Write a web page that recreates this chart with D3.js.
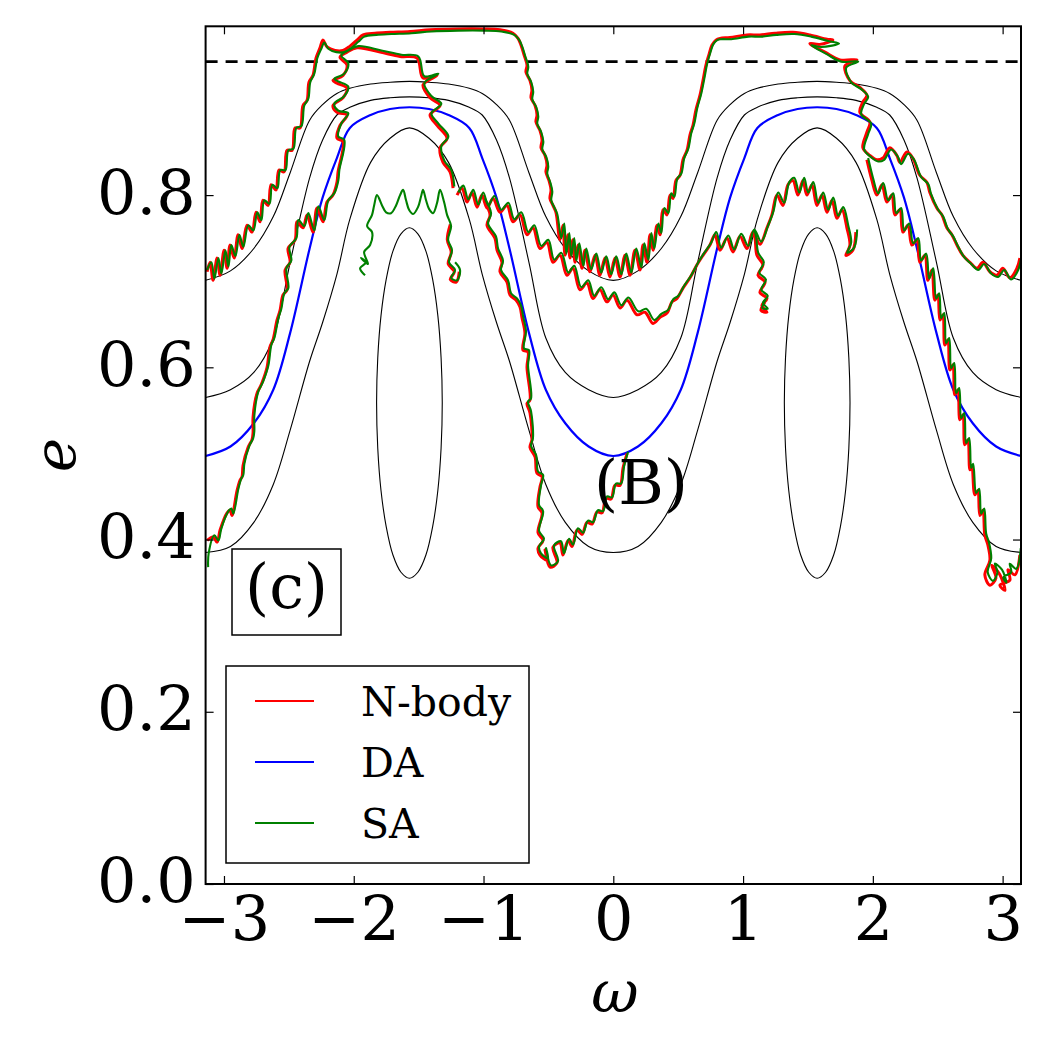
<!DOCTYPE html>
<html>
<head>
<meta charset="utf-8">
<script src="https://cdn.jsdelivr.net/npm/d3@7"></script>
<style>
  body { margin: 0; background: #fff; }
  svg { display: block; background: #fff; }
  text { font-family: "DejaVu Serif", serif; fill: #000; }
</style>
</head>
<body>
<svg width="1050" height="1050"></svg>
<script>
// ---- data (omega, e) ----
const contourOmega = [-3.1416, -2.95, -2.77, -2.62, -2.49, -2.34, -2.24, -2.13, -2.03, -1.87, -1.72, -1.5708,
  -1.42, -1.27, -1.11, -1.01, -0.90, -0.80, -0.65, -0.52, -0.37, -0.19, 0,
  0.19, 0.37, 0.52, 0.65, 0.80, 0.90, 1.01, 1.11, 1.27, 1.42, 1.5708,
  1.72, 1.87, 2.03, 2.13, 2.24, 2.34, 2.49, 2.62, 2.77, 2.95, 3.1416];

// DA curve (blue)
const daE = [0.497, 0.508, 0.535, 0.574, 0.640, 0.738, 0.797, 0.843, 0.878, 0.893, 0.900, 0.902,
  0.900, 0.893, 0.878, 0.843, 0.797, 0.738, 0.640, 0.574, 0.535, 0.508, 0.497,
  0.508, 0.535, 0.574, 0.640, 0.738, 0.797, 0.843, 0.878, 0.893, 0.900, 0.902,
  0.900, 0.893, 0.878, 0.843, 0.797, 0.738, 0.640, 0.574, 0.535, 0.508, 0.497];

// black level curves
const outerE = [0.701, 0.712, 0.738, 0.775, 0.826, 0.887, 0.905, 0.918, 0.924, 0.929, 0.931, 0.932,
  0.931, 0.929, 0.924, 0.918, 0.905, 0.887, 0.826, 0.775, 0.738, 0.712, 0.701,
  0.712, 0.738, 0.775, 0.826, 0.887, 0.905, 0.918, 0.924, 0.929, 0.931, 0.932,
  0.931, 0.929, 0.924, 0.918, 0.905, 0.887, 0.826, 0.775, 0.738, 0.712, 0.701];
const middleE = [0.565, 0.574, 0.594, 0.634, 0.722, 0.820, 0.864, 0.893, 0.902, 0.910, 0.913, 0.914,
  0.913, 0.910, 0.902, 0.893, 0.864, 0.820, 0.722, 0.634, 0.594, 0.574, 0.565,
  0.574, 0.594, 0.634, 0.722, 0.820, 0.864, 0.893, 0.902, 0.910, 0.913, 0.914,
  0.913, 0.910, 0.902, 0.893, 0.864, 0.820, 0.722, 0.634, 0.594, 0.574, 0.565];
const innerE = [0.385, 0.392, 0.420, 0.464, 0.527, 0.607, 0.652, 0.708, 0.772, 0.838, 0.866, 0.878,
  0.866, 0.838, 0.772, 0.708, 0.652, 0.607, 0.527, 0.464, 0.420, 0.392, 0.385,
  0.392, 0.420, 0.464, 0.527, 0.607, 0.652, 0.708, 0.772, 0.838, 0.866, 0.878,
  0.866, 0.838, 0.772, 0.708, 0.652, 0.607, 0.527, 0.464, 0.420, 0.392, 0.385];

// closed libration islands (oval outlines)
const islandLeft = [[-1.571,0.762],[-1.636,0.755],[-1.698,0.735],[-1.750,0.702],[-1.790,0.660],[-1.815,0.611],
  [-1.824,0.559],[-1.815,0.506],[-1.790,0.457],[-1.750,0.415],[-1.698,0.382],[-1.636,0.362],[-1.571,0.355],
  [-1.506,0.362],[-1.444,0.382],[-1.392,0.415],[-1.352,0.457],[-1.327,0.506],[-1.318,0.559],[-1.327,0.611],
  [-1.352,0.660],[-1.392,0.702],[-1.444,0.735],[-1.506,0.755]];
const islandRight = [[1.571,0.762],[1.506,0.755],[1.444,0.735],[1.392,0.702],[1.352,0.660],[1.327,0.611],
  [1.318,0.559],[1.327,0.506],[1.352,0.457],[1.392,0.415],[1.444,0.382],[1.506,0.362],[1.571,0.355],
  [1.636,0.362],[1.698,0.382],[1.750,0.415],[1.790,0.457],[1.815,0.506],[1.824,0.559],[1.815,0.611],
  [1.790,0.660],[1.750,0.702],[1.698,0.735],[1.636,0.755]];

const criticalE = 0.955;

// N-body (red)
const nbodyOuter = [[-3.130,0.711],[-3.107,0.722],[-3.084,0.701],[-3.053,0.727],[-3.030,0.707],[-2.999,0.736],
  [-2.976,0.715],[-2.953,0.742],[-2.922,0.727],[-2.891,0.754],[-2.861,0.738],[-2.822,0.765],[-2.784,0.757],
  [-2.753,0.780],[-2.722,0.769],[-2.699,0.794],[-2.660,0.788],[-2.637,0.812],[-2.599,0.806],[-2.576,0.829],
  [-2.537,0.827],[-2.514,0.852],[-2.475,0.852],[-2.452,0.878],[-2.414,0.878],[-2.391,0.904],[-2.360,0.910],
  [-2.345,0.931],[-2.314,0.939],[-2.291,0.959],[-2.260,0.971],[-2.237,0.980],[-2.206,0.972],[-2.144,0.968],
  [-2.083,0.968],[-2.029,0.973],[-1.975,0.980],[-1.928,0.986],[-1.836,0.988],[-1.720,0.989],[-1.566,0.990],
  [-1.412,0.992],[-1.204,0.993],[-1.004,0.993],[-0.873,0.992],[-0.773,0.988],[-0.734,0.982],[-0.711,0.974],
  [-0.688,0.963],[-0.665,0.951],[-0.673,0.943],[-0.642,0.933],[-0.627,0.922],[-0.634,0.913],[-0.603,0.904],
  [-0.588,0.893],[-0.596,0.885],[-0.565,0.875],[-0.549,0.864],[-0.557,0.855],[-0.526,0.846],[-0.511,0.835],
  [-0.519,0.827],[-0.496,0.817],[-0.480,0.806],[-0.488,0.796],[-0.465,0.788],[-0.442,0.780],
  [-0.411,0.748],[-0.388,0.765],[-0.372,0.730],[-0.349,0.754],[-0.334,0.727],[-0.311,0.748],[-0.295,0.722],
  [-0.272,0.742],[-0.241,0.715],[-0.218,0.736],[-0.180,0.711],[-0.141,0.730],[-0.103,0.707],[-0.064,0.727],
  [-0.026,0.705],[0.013,0.727],[0.052,0.705],[0.090,0.730],[0.129,0.707],[0.167,0.736],[0.206,0.713],
  [0.229,0.742],[0.260,0.722],[0.283,0.754],[0.306,0.736],[0.337,0.765],[0.360,0.754],[0.383,0.783],
  [0.414,0.777],[0.437,0.800],[0.460,0.796],[0.483,0.817],[0.514,0.823],[0.537,0.841],[0.568,0.852],
  [0.591,0.870],[0.614,0.881],[0.637,0.899],[0.668,0.916],[0.691,0.933],[0.714,0.951],[0.737,0.963],
  [0.760,0.974],[0.791,0.980],[0.822,0.982],[0.899,0.983],[1.030,0.986],[1.130,0.986],[1.246,0.988],
  [1.384,0.989],[1.515,0.986],[1.646,0.981],[1.692,0.980],[1.592,0.975],[1.515,0.976],[1.631,0.966],
  [1.746,0.957],[1.877,0.957],[1.785,0.950],[1.823,0.933],[1.900,0.925],[1.954,0.916],[1.923,0.908],
  [1.900,0.896],[1.977,0.885],[1.954,0.873],[1.923,0.855],[1.977,0.846],[2.031,0.841],[2.077,0.843],
  [2.131,0.855],[2.185,0.846],[2.208,0.838],[2.262,0.850],[2.308,0.843],[2.362,0.823],[2.416,0.815],
  [2.439,0.803],[2.493,0.785],[2.532,0.777],[2.570,0.762],[2.609,0.754],[2.648,0.742],[2.694,0.730],
  [2.748,0.722],[2.802,0.715],[2.848,0.722],[2.902,0.711],[2.956,0.707],[3.002,0.715],[3.056,0.704],
  [3.110,0.715],[3.133,0.727]];

const nbodyLowerLeft = [[-3.130,0.399],[-3.084,0.403],[-3.053,0.397],[-3.030,0.411],[-2.976,0.431],[-2.953,0.434],
  [-2.938,0.428],[-2.899,0.457],[-2.876,0.469],[-2.861,0.473],[-2.853,0.486],[-2.814,0.507],[-2.784,0.516],
  [-2.776,0.524],[-2.776,0.542],[-2.745,0.570],[-2.722,0.577],[-2.707,0.582],[-2.668,0.600],[-2.645,0.624],
  [-2.622,0.632],[-2.591,0.655],[-2.568,0.666],[-2.545,0.684],[-2.514,0.690],[-2.529,0.713],[-2.491,0.722],
  [-2.506,0.738],[-2.452,0.748],[-2.437,0.769],[-2.391,0.762],[-2.360,0.777],[-2.314,0.757],[-2.283,0.785],
  [-2.237,0.769],[-2.206,0.792],[-2.160,0.800],[-2.129,0.815],[-2.121,0.827],[-2.083,0.862],[-2.129,0.866],
  [-2.106,0.881],[-2.052,0.893],[-2.129,0.896],[-2.160,0.904],[-2.083,0.913],[-2.052,0.924],[-2.129,0.930],
  [-2.160,0.933],[-2.083,0.939],[-2.052,0.951],[-2.106,0.960],[-2.052,0.966],[-1.975,0.971],[-1.797,0.966],
  [-1.643,0.961],[-1.512,0.959],[-1.466,0.936],[-1.358,0.939],[-1.466,0.928],[-1.412,0.913],[-1.335,0.904],
  [-1.412,0.893],[-1.358,0.881],[-1.281,0.866],[-1.335,0.855],[-1.312,0.838],[-1.258,0.827],[-1.235,0.808]];

const nbodyLowerRight = [[1.954,0.841],[1.993,0.817],[2.031,0.800],[2.070,0.812],[2.108,0.792],[2.147,0.800],
  [2.170,0.777],[2.208,0.783],[2.231,0.757],[2.270,0.765],[2.301,0.742],[2.340,0.748],[2.362,0.722],
  [2.401,0.730],[2.424,0.701],[2.455,0.713],[2.478,0.678],[2.501,0.684],[2.517,0.655],[2.540,0.661],
  [2.555,0.626],[2.578,0.632],[2.594,0.597],[2.617,0.603],[2.632,0.568],[2.655,0.574],[2.671,0.539],
  [2.694,0.545],[2.709,0.510],[2.732,0.516],[2.748,0.481],[2.763,0.486],[2.786,0.452],[2.809,0.457],
  [2.825,0.428],[2.848,0.434],[2.863,0.405],[2.886,0.394],[2.902,0.376],[2.863,0.359],[2.902,0.347],
  [2.948,0.355],[2.917,0.370],[2.979,0.359],[3.018,0.341],[2.979,0.347],[3.056,0.353],[3.041,0.365],
  [3.095,0.359],[3.133,0.382]];

const nbodyBand = [[-1.204,0.800],[-1.166,0.808],[-1.127,0.792],[-1.089,0.803],[-1.050,0.786],[-1.012,0.800],
  [-0.973,0.785],[-0.927,0.796],[-0.873,0.780],[-0.819,0.788],[-0.773,0.769],[-0.719,0.777],[-0.665,0.754],
  [-0.619,0.762],[-0.565,0.738],[-0.511,0.745],[-0.465,0.722],[-0.411,0.730],[-0.357,0.707],[-0.311,0.715],
  [-0.257,0.690],[-0.203,0.698],[-0.157,0.680],[-0.103,0.690],[-0.049,0.676],[-0.002,0.684],[0.052,0.669],
  [0.106,0.678],[0.183,0.661],[0.244,0.664],[0.306,0.651],[0.360,0.658],[0.414,0.663],[0.452,0.676],
  [0.491,0.680],[0.537,0.692],[0.591,0.704],[0.645,0.719],[0.691,0.730],[0.745,0.742],[0.783,0.754],
  [0.822,0.736],[0.876,0.750],[0.922,0.734],[0.976,0.752],[1.030,0.738],[1.076,0.757],[1.130,0.743],
  [1.184,0.762],[1.222,0.777],[1.261,0.800],[1.307,0.788],[1.346,0.812],[1.384,0.817],[1.423,0.800],
  [1.461,0.817],[1.492,0.800],[1.531,0.812],[1.569,0.788],[1.608,0.800],[1.646,0.780],[1.685,0.794],
  [1.723,0.773],[1.762,0.783],[1.800,0.762],[1.823,0.742],[1.792,0.730],[1.846,0.736],[1.869,0.757]];

const nbodyCentre = [[-0.997,0.794],[-0.950,0.777],[-0.973,0.765],[-0.912,0.750],[-0.896,0.736],[-0.858,0.722],
  [-0.873,0.711],[-0.819,0.699],[-0.796,0.684],[-0.750,0.678],[-0.719,0.670],[-0.704,0.658],[-0.681,0.640],
  [-0.696,0.620],[-0.658,0.618],[-0.665,0.600],[-0.642,0.562],[-0.665,0.558],[-0.642,0.547],[-0.627,0.516],
  [-0.642,0.507],[-0.603,0.496],[-0.588,0.477],[-0.549,0.473],[-0.565,0.461],[-0.580,0.438],[-0.549,0.431],
  [-0.580,0.408],[-0.542,0.399],[-0.580,0.390],[-0.565,0.382],[-0.511,0.376],[-0.526,0.388],[-0.488,0.368],
  [-0.434,0.373],[-0.465,0.391],[-0.411,0.396],[-0.388,0.382],[-0.349,0.399],[-0.318,0.392],[-0.280,0.411],
  [-0.241,0.406],[-0.203,0.420],[-0.164,0.418],[-0.126,0.432],[-0.087,0.431],[-0.056,0.448],[-0.018,0.447],
  [0.013,0.463],[0.052,0.463],[0.075,0.483],[0.106,0.500]];

const nbodyDrop = [[1.076,0.757],[1.092,0.750],[1.107,0.730],[1.153,0.719],[1.115,0.707],[1.169,0.699],
  [1.130,0.687],[1.184,0.680],[1.145,0.672],[1.184,0.664],[1.138,0.666],[1.169,0.676]];

const nbodyKnot = [[-1.256,0.766],[-1.279,0.748],[-1.249,0.734],[-1.272,0.720],[-1.225,0.711],[-1.256,0.702],
  [-1.210,0.699],[-1.187,0.711]];

// SA (green)
const saOuter = [[-3.130,0.713],[-3.097,0.722],[-3.074,0.703],[-3.043,0.727],[-3.020,0.709],[-2.989,0.736],
  [-2.966,0.717],[-2.943,0.742],[-2.912,0.729],[-2.881,0.754],[-2.851,0.740],[-2.812,0.765],[-2.774,0.759],
  [-2.743,0.780],[-2.712,0.771],[-2.689,0.794],[-2.650,0.790],[-2.627,0.812],[-2.589,0.808],[-2.566,0.829],
  [-2.527,0.829],[-2.504,0.852],[-2.465,0.854],[-2.442,0.878],[-2.404,0.880],[-2.381,0.904],[-2.350,0.912],
  [-2.335,0.931],[-2.304,0.941],[-2.281,0.959],[-2.250,0.970],[-2.227,0.977],[-2.196,0.970],[-2.134,0.966],
  [-2.073,0.966],[-2.019,0.971],[-1.965,0.978],[-1.918,0.984],[-1.826,0.986],[-1.710,0.987],[-1.556,0.988],
  [-1.402,0.990],[-1.194,0.991],[-0.994,0.991],[-0.863,0.990],[-0.763,0.986],[-0.724,0.980],[-0.701,0.972],
  [-0.678,0.961],[-0.655,0.949],[-0.663,0.941],[-0.632,0.931],[-0.617,0.920],[-0.624,0.911],[-0.593,0.902],
  [-0.578,0.891],[-0.586,0.883],[-0.555,0.873],[-0.539,0.862],[-0.547,0.853],[-0.516,0.844],[-0.501,0.833],
  [-0.509,0.825],[-0.486,0.815],[-0.470,0.804],[-0.478,0.794],[-0.455,0.786],[-0.432,0.778],
  [-0.401,0.750],[-0.378,0.767],[-0.362,0.732],[-0.339,0.756],[-0.324,0.729],[-0.301,0.750],[-0.285,0.724],
  [-0.262,0.744],[-0.231,0.718],[-0.208,0.738],[-0.170,0.714],[-0.131,0.732],[-0.093,0.710],[-0.054,0.729],
  [-0.016,0.708],[0.023,0.729],[0.062,0.708],[0.100,0.732],[0.139,0.710],[0.177,0.738],[0.216,0.716],
  [0.239,0.744],[0.270,0.725],[0.293,0.756],[0.316,0.738],[0.347,0.767],[0.370,0.756],[0.393,0.785],
  [0.424,0.779],[0.447,0.802],[0.470,0.798],[0.493,0.819],[0.524,0.825],[0.547,0.843],[0.578,0.854],
  [0.601,0.872],[0.624,0.883],[0.647,0.901],[0.678,0.918],[0.701,0.935],[0.724,0.953],[0.747,0.965],
  [0.770,0.975],[0.801,0.980],[0.832,0.981],[0.909,0.981],[1.040,0.984],[1.140,0.984],[1.256,0.986],
  [1.394,0.987],[1.525,0.984],[1.656,0.979],[1.740,0.976],[1.602,0.972],[1.525,0.974],[1.641,0.964],
  [1.756,0.955],[1.887,0.955],[1.795,0.948],[1.833,0.931],[1.910,0.923],[1.964,0.914],[1.933,0.906],
  [1.910,0.894],[1.987,0.883],[1.964,0.871],[1.933,0.853],[1.987,0.844],[2.041,0.839],[2.087,0.841],
  [2.141,0.853],[2.195,0.844],[2.218,0.836],[2.272,0.848],[2.318,0.841],[2.372,0.821],[2.426,0.813],
  [2.449,0.801],[2.503,0.783],[2.542,0.775],[2.580,0.760],[2.619,0.752],[2.658,0.740],[2.704,0.728],
  [2.758,0.720],[2.812,0.713],[2.858,0.720],[2.912,0.709],[2.966,0.705],[3.012,0.713],[3.066,0.702],
  [3.120,0.713],[3.140,0.725]];

const saLowerLeft = [[-3.122,0.368],[-3.118,0.384],[-3.074,0.405],[-3.043,0.399],[-3.020,0.413],[-2.966,0.433],
  [-2.943,0.436],[-2.928,0.430],[-2.889,0.459],[-2.866,0.471],[-2.851,0.475],[-2.843,0.488],[-2.804,0.509],
  [-2.774,0.518],[-2.766,0.526],[-2.766,0.544],[-2.735,0.572],[-2.712,0.579],[-2.697,0.584],[-2.658,0.602],
  [-2.635,0.626],[-2.612,0.634],[-2.581,0.657],[-2.558,0.668],[-2.535,0.686],[-2.504,0.692],[-2.519,0.715],
  [-2.481,0.724],[-2.496,0.740],[-2.442,0.750],[-2.427,0.771],[-2.381,0.764],[-2.350,0.779],[-2.304,0.759],
  [-2.273,0.787],[-2.227,0.771],[-2.196,0.794],[-2.150,0.802],[-2.119,0.817],[-2.111,0.829],[-2.073,0.864],
  [-2.119,0.868],[-2.096,0.883],[-2.042,0.895],[-2.119,0.898],[-2.150,0.906],[-2.073,0.915],[-2.042,0.926],
  [-2.119,0.932],[-2.150,0.935],[-2.073,0.941],[-2.042,0.953],[-2.096,0.962],[-2.042,0.968],[-1.965,0.973],
  [-1.787,0.968],[-1.633,0.963],[-1.502,0.961],[-1.456,0.938],[-1.348,0.941],[-1.456,0.930],[-1.402,0.915],
  [-1.325,0.906],[-1.402,0.895],[-1.348,0.883],[-1.271,0.868],[-1.325,0.857],[-1.302,0.840],[-1.248,0.829],
  [-1.225,0.810]];

const saLowerRight = [[1.964,0.843],[2.003,0.819],[2.041,0.802],[2.080,0.814],[2.118,0.794],[2.157,0.802],
  [2.180,0.779],[2.218,0.785],[2.241,0.759],[2.280,0.767],[2.311,0.744],[2.350,0.750],[2.372,0.724],
  [2.411,0.732],[2.434,0.703],[2.465,0.715],[2.488,0.680],[2.511,0.686],[2.527,0.657],[2.550,0.663],
  [2.565,0.628],[2.588,0.634],[2.604,0.599],[2.627,0.605],[2.642,0.570],[2.665,0.576],[2.681,0.541],
  [2.704,0.547],[2.719,0.512],[2.742,0.518],[2.758,0.483],[2.773,0.488],[2.796,0.454],[2.819,0.459],
  [2.835,0.430],[2.858,0.436],[2.873,0.407],[2.896,0.396],[2.912,0.378],[2.885,0.362],[2.925,0.352],
  [2.960,0.362],[2.940,0.372],[2.995,0.365],[3.030,0.350],[3.005,0.356],[3.066,0.362],[3.055,0.372],
  [3.105,0.366],[3.140,0.390]];

const saBand = [[-1.194,0.803],[-1.156,0.811],[-1.117,0.795],[-1.079,0.806],[-1.040,0.789],[-1.002,0.803],
  [-0.963,0.788],[-0.917,0.799],[-0.863,0.783],[-0.809,0.791],[-0.763,0.772],[-0.709,0.780],[-0.655,0.757],
  [-0.609,0.765],[-0.555,0.741],[-0.501,0.748],[-0.455,0.725],[-0.401,0.733],[-0.347,0.710],[-0.301,0.718],
  [-0.247,0.693],[-0.193,0.701],[-0.147,0.683],[-0.093,0.693],[-0.039,0.679],[0.008,0.687],[0.062,0.672],
  [0.116,0.681],[0.193,0.665],[0.254,0.668],[0.316,0.655],[0.370,0.662],[0.424,0.667],[0.462,0.679],
  [0.501,0.683],[0.547,0.695],[0.601,0.707],[0.655,0.722],[0.701,0.733],[0.755,0.745],[0.793,0.757],
  [0.832,0.739],[0.886,0.753],[0.932,0.737],[0.986,0.755],[1.040,0.741],[1.086,0.760],[1.140,0.746],
  [1.194,0.765],[1.232,0.780],[1.271,0.803],[1.317,0.791],[1.356,0.815],[1.394,0.820],[1.433,0.803],
  [1.471,0.820],[1.502,0.803],[1.541,0.815],[1.579,0.791],[1.618,0.803],[1.656,0.783],[1.695,0.797],
  [1.733,0.776],[1.772,0.786],[1.810,0.765],[1.833,0.745],[1.802,0.733],[1.856,0.739],[1.879,0.760]];

const saCentre = [[-0.989,0.796],[-0.942,0.779],[-0.965,0.767],[-0.904,0.752],[-0.888,0.738],[-0.850,0.724],
  [-0.865,0.713],[-0.811,0.701],[-0.788,0.686],[-0.742,0.680],[-0.711,0.672],[-0.696,0.660],[-0.673,0.642],
  [-0.688,0.622],[-0.650,0.620],[-0.657,0.602],[-0.634,0.564],[-0.657,0.560],[-0.634,0.549],[-0.619,0.518],
  [-0.634,0.509],[-0.595,0.498],[-0.580,0.479],[-0.541,0.475],[-0.557,0.463],[-0.572,0.440],[-0.541,0.433],
  [-0.572,0.410],[-0.534,0.401],[-0.572,0.392],[-0.557,0.384],[-0.503,0.378],[-0.518,0.390],[-0.480,0.370],
  [-0.426,0.375],[-0.457,0.393],[-0.403,0.398],[-0.380,0.384],[-0.341,0.401],[-0.310,0.394],[-0.272,0.413],
  [-0.233,0.408],[-0.195,0.422],[-0.156,0.420],[-0.118,0.434],[-0.079,0.433],[-0.048,0.450],[-0.010,0.449],
  [0.021,0.465],[0.060,0.465],[0.083,0.485],[0.114,0.502]];

const saDrop = [[1.086,0.760],[1.100,0.752],[1.117,0.733],[1.160,0.722],[1.125,0.710],[1.176,0.702],
  [1.140,0.690],[1.190,0.683],[1.153,0.675],[1.190,0.668],[1.148,0.669],[1.176,0.679]];

// SA-only librating track
const saLibration = [[-1.913,0.707],[-1.951,0.715],[-1.905,0.722],[-1.944,0.727],[-1.890,0.720],[-1.920,0.734],
  [-1.874,0.742],[-1.859,0.757],[-1.897,0.764],[-1.859,0.777],[-1.843,0.788],[-1.821,0.800],[-1.782,0.788],
  [-1.751,0.780],[-1.713,0.779],[-1.674,0.788],[-1.643,0.800],[-1.620,0.806],[-1.597,0.794],[-1.574,0.783],
  [-1.543,0.778],[-1.505,0.786],[-1.482,0.798],[-1.466,0.806],[-1.443,0.794],[-1.420,0.784],[-1.389,0.779],
  [-1.358,0.791],[-1.335,0.806],[-1.304,0.792],[-1.281,0.777],[-1.250,0.764],[-1.273,0.748],[-1.243,0.736],
  [-1.266,0.722],[-1.219,0.713],[-1.250,0.704],[-1.204,0.701],[-1.181,0.713],[-1.219,0.722]];

const xTicks = [-3, -2, -1, 0, 1, 2, 3];
const yTicks = [0, 0.2, 0.4, 0.6, 0.8];
const legendNames = ["N-body", "DA", "SA"];
const legendColors = ["#ff0000", "#0000ff", "#008000"];

// ---- drawing ----
const svg = d3.select("svg");
const plotLeft = 205.6, plotRight = 1021, plotTop = 26.3, plotBottom = 884;

const xScale = d3.scaleLinear().domain([-Math.PI, Math.PI]).range([plotLeft, plotRight]);
const yScale = d3.scaleLinear().domain([0, 0.996]).range([plotBottom, plotTop]);

svg.append("defs").append("clipPath").attr("id", "plotClip")
  .append("rect")
  .attr("x", plotLeft).attr("y", plotTop)
  .attr("width", plotRight - plotLeft).attr("height", plotBottom - plotTop);

const plot = svg.append("g").attr("clip-path", "url(#plotClip)");

const line = d3.line()
  .x(d => xScale(d[0]))
  .y(d => yScale(d[1]))
  .curve(d3.curveCatmullRom.alpha(0.5));

const closedLine = d3.line()
  .x(d => xScale(d[0]))
  .y(d => yScale(d[1]))
  .curve(d3.curveCatmullRomClosed.alpha(0.5));

function pairs(es) {
  return contourOmega.map((w, i) => [w, es[i]]);
}

// black level curves
[outerE, middleE, innerE].forEach(es => {
  plot.append("path")
    .attr("d", line(pairs(es)))
    .attr("fill", "none")
    .attr("stroke", "#000")
    .attr("stroke-width", 1.1);
});
[islandLeft, islandRight].forEach(pts => {
  plot.append("path")
    .attr("d", closedLine(pts))
    .attr("fill", "none")
    .attr("stroke", "#000")
    .attr("stroke-width", 1.1);
});

// DA curve
plot.append("path")
  .attr("d", line(pairs(daE)))
  .attr("fill", "none")
  .attr("stroke", "#0000ff")
  .attr("stroke-width", 2.2);

// e = critical value, dashed
plot.append("line")
  .attr("x1", xScale(-Math.PI)).attr("x2", xScale(Math.PI))
  .attr("y1", yScale(criticalE)).attr("y2", yScale(criticalE))
  .attr("stroke", "#000")
  .attr("stroke-width", 2.6)
  .attr("stroke-dasharray", "12,8");

// N-body tracks
[nbodyOuter, nbodyLowerLeft, nbodyLowerRight, nbodyBand, nbodyCentre, nbodyDrop, nbodyKnot].forEach(pts => {
  plot.append("path")
    .attr("d", line(pts))
    .attr("fill", "none")
    .attr("stroke", "#ff0000")
    .attr("stroke-width", 3)
    .attr("stroke-linejoin", "round");
});

// SA tracks
[saOuter, saLowerLeft, saLowerRight, saBand, saCentre, saDrop, saLibration].forEach(pts => {
  plot.append("path")
    .attr("d", line(pts))
    .attr("fill", "none")
    .attr("stroke", "#008000")
    .attr("stroke-width", 2.1)
    .attr("stroke-linejoin", "round");
});

// axes, inward ticks on all four sides
const fmtY = d3.format(".1f");
const fmtX = d3.format("d");

svg.append("g")
  .attr("transform", `translate(0,${plotBottom})`)
  .call(d3.axisBottom(xScale).tickValues(xTicks).tickFormat(fmtX).tickSizeInner(-8).tickSizeOuter(0).tickPadding(12));
const yAxis = svg.append("g")
  .attr("transform", `translate(${plotLeft},0)`)
  .call(d3.axisLeft(yScale).tickValues(yTicks).tickFormat(fmtY).tickSizeInner(-8).tickSizeOuter(0).tickPadding(10));
svg.append("g")
  .attr("transform", `translate(0,${plotTop})`)
  .call(d3.axisTop(xScale).tickValues(xTicks).tickFormat("").tickSizeInner(-8).tickSizeOuter(0));
svg.append("g")
  .attr("transform", `translate(${plotRight},0)`)
  .call(d3.axisRight(yScale).tickValues(yTicks).tickFormat("").tickSizeInner(-8).tickSizeOuter(0));

svg.selectAll(".domain").remove();
svg.selectAll(".tick line").attr("stroke", "#000").attr("stroke-width", 1.2);
svg.selectAll(".tick text")
  .attr("font-family", "DejaVu Serif")
  .attr("font-size", 62)
  .attr("fill", "#000");
yAxis.selectAll(".tick text").attr("dy", "0.29em");

// frame
svg.append("rect")
  .attr("x", plotLeft).attr("y", plotTop)
  .attr("width", plotRight - plotLeft).attr("height", plotBottom - plotTop)
  .attr("fill", "none")
  .attr("stroke", "#000")
  .attr("stroke-width", 2);

// axis labels
svg.append("text")
  .attr("x", 615).attr("y", 1012)
  .attr("text-anchor", "middle")
  .attr("font-size", 58)
  .attr("font-style", "italic")
  .text("ω");
svg.append("text")
  .attr("transform", "translate(75,455) rotate(-90)")
  .attr("text-anchor", "middle")
  .attr("font-size", 58)
  .attr("font-style", "italic")
  .text("e");

// "(B)" marker
svg.append("text")
  .attr("x", 641).attr("y", 504)
  .attr("text-anchor", "middle")
  .attr("font-size", 62)
  .text("(B)");

// panel tag
svg.append("rect")
  .attr("x", 232).attr("y", 549)
  .attr("width", 109).attr("height", 86)
  .attr("fill", "#fff")
  .attr("stroke", "#000")
  .attr("stroke-width", 1.5);
svg.append("text")
  .attr("x", 286.5).attr("y", 608)
  .attr("text-anchor", "middle")
  .attr("font-size", 62)
  .text("(c)");

// legend
const legend = svg.append("g");
legend.append("rect")
  .attr("x", 226).attr("y", 666)
  .attr("width", 303).attr("height", 197)
  .attr("fill", "#fff")
  .attr("stroke", "#000")
  .attr("stroke-width", 1.5);
const rowY = d3.scalePoint().domain(legendNames).range([701, 823]);
legendNames.forEach((name, i) => {
  legend.append("line")
    .attr("x1", 255).attr("x2", 314)
    .attr("y1", rowY(name)).attr("y2", rowY(name))
    .attr("stroke", legendColors[i])
    .attr("stroke-width", 2);
  legend.append("text")
    .attr("x", 361).attr("y", rowY(name) + 15)
    .attr("font-size", 41)
    .text(name);
});
</script>
</body>
</html>
